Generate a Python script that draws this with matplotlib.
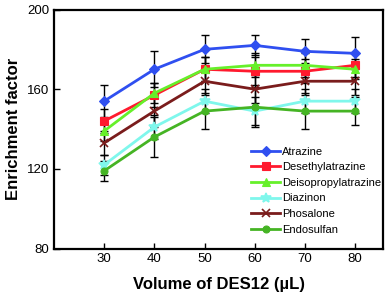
import matplotlib
matplotlib.use("Agg")
import matplotlib.pyplot as plt

volume = [30, 40, 50, 60, 70, 80]
series_names = ["Atrazine", "Desethylatrazine", "Deisopropylatrazine",
                "Diazinon", "Phosalone", "Endosulfan"]
atrazine = [154, 170, 180, 182, 179, 178]
desethylatrazine = [144, 157, 170, 169, 169, 172]
deisopropylatrazine = [139, 158, 170, 172, 172, 170]
diazinon = [122, 141, 154, 149, 154, 154]
phosalone = [133, 149, 164, 160, 164, 164]
endosulfan = [119, 136, 149, 151, 149, 149]

err_atrazine = [8, 9, 7, 5, 6, 8]
err_desethyl = [6, 6, 6, 7, 6, 6]
err_deiso = [5, 5, 6, 6, 6, 5]
err_diazinon = [5, 6, 6, 7, 6, 6]
err_phosalone = [6, 8, 7, 7, 7, 7]
err_endosulfan = [5, 10, 9, 10, 9, 7]

values = [atrazine, desethylatrazine, deisopropylatrazine, diazinon, phosalone, endosulfan]
errors = [err_atrazine, err_desethyl, err_deiso, err_diazinon, err_phosalone, err_endosulfan]
colors = ["#2f4ff0", "#ff1a2e", "#66f02a", "#7ff7ec", "#7a1c1c", "#45b424"]
markers = ["D", "s", "^", "*", "x", "o"]
msizes = [5, 6, 6, 7, 6, 5]

plt.rcParams['font.family'] = ['Liberation Sans', 'DejaVu Sans']

fig = plt.figure(figsize=(3.91, 2.97), dpi=100)
ax = fig.add_axes([0.138, 0.163, 0.842, 0.805])

for name, v, e, c, m, ms in zip(series_names, values, errors, colors, markers, msizes):
    ax.errorbar(volume, v, yerr=e, fmt='none', ecolor='black', elinewidth=1.0,
                capsize=3, capthick=1.0, zorder=1)
    ax.plot(volume, v, color=c, marker=m, markersize=ms, linewidth=2.0,
            markeredgewidth=1.2 if m in ('x', '*') else 0.8,
            markeredgecolor=c, label=name, zorder=2)

ax.set_xlim(20, 85.6)
ax.set_ylim(80, 200)
ax.set_xticks([30, 40, 50, 60, 70, 80])
ax.set_yticks([80, 120, 160, 200])
ax.tick_params(direction='in', length=4, width=1, labelsize=9.5)
for s in ax.spines.values():
    s.set_linewidth(1.6)

ax.set_xlabel("Volume of DES12 (µL)", fontsize=12, fontweight='bold', labelpad=8)
ax.set_ylabel("Enrichment factor", fontsize=12, fontweight='bold', labelpad=4)

leg = ax.legend(loc='lower right', frameon=False, fontsize=8, handlelength=2.6,
                handletextpad=0.2, labelspacing=0.5, borderaxespad=0.0,
                bbox_to_anchor=(1.008, 0.04))

fig.savefig("out.png", dpi=100)
